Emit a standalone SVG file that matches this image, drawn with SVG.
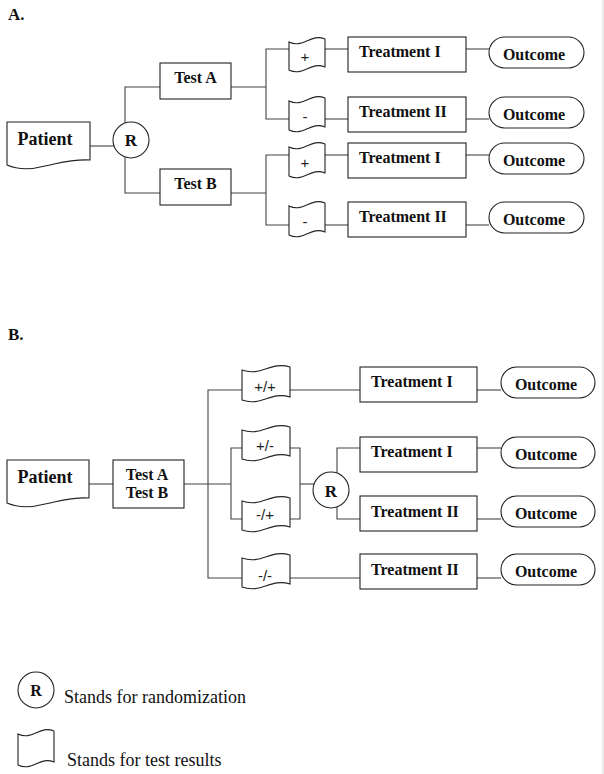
<svg xmlns="http://www.w3.org/2000/svg" width="604" height="774" viewBox="0 0 604 774">
<style>
.s{fill:#fff;stroke:#222;stroke-width:1.1}
.c line,.c polyline{fill:none;stroke:#444;stroke-width:1.1}
.b{font-family:"Liberation Serif","Times New Roman",serif;font-weight:bold;font-size:16px;fill:#111}
.bc{text-anchor:middle}
.r{font-size:17px}
.p{font-family:"Liberation Serif","Times New Roman",serif;font-weight:bold;font-size:18px;fill:#111;text-anchor:middle}
.t{font-family:"Liberation Sans",Arial,sans-serif;font-size:15px;fill:#222;text-anchor:middle}
.l{font-family:"Liberation Serif","Times New Roman",serif;font-size:18px;fill:#111}
.h{font-family:"Liberation Serif","Times New Roman",serif;font-weight:bold;font-size:17px;fill:#111}
</style>
<rect width="604" height="774" fill="#fff"/>
<line x1="603" y1="0" x2="603" y2="774" stroke="#d4d4d4" stroke-width="1"/>

<text class="h" x="8" y="20">A.</text>
<text class="h" x="8" y="340">B.</text>

<g class="c" id="connectors">
  <!-- A -->
  <line x1="90" y1="146" x2="114" y2="146"/>
  <polyline points="125,123 125,87 160,87"/>
  <polyline points="125,157 125,193 160,193"/>
  <line x1="231" y1="87" x2="266" y2="87"/>
  <polyline points="289,49 266,49 266,119 289,119"/>
  <line x1="231" y1="193" x2="266" y2="193"/>
  <polyline points="289,155 266,155 266,225 289,225"/>
  <line x1="325" y1="49" x2="348" y2="49"/>
  <line x1="325" y1="119" x2="348" y2="119"/>
  <line x1="325" y1="155" x2="348" y2="155"/>
  <line x1="325" y1="225" x2="348" y2="225"/>
  <line x1="466" y1="49" x2="489" y2="49"/>
  <line x1="466" y1="119" x2="489" y2="119"/>
  <line x1="466" y1="155" x2="489" y2="155"/>
  <line x1="466" y1="225" x2="489" y2="225"/>
  <!-- B -->
  <line x1="89" y1="484" x2="113" y2="484"/>
  <line x1="184" y1="484" x2="231" y2="484"/>
  <polyline points="242,390 208,390 208,578 242,578"/>
  <polyline points="242,448 231,448 231,519 242,519"/>
  <line x1="290" y1="390" x2="360" y2="390"/>
  <polyline points="290,448 300,448 300,519 290,519"/>
  <line x1="300" y1="484" x2="314" y2="484"/>
  <polyline points="337,473 337,448 360,448"/>
  <polyline points="337,507 337,519 360,519"/>
  <line x1="290" y1="578" x2="360" y2="578"/>
  <line x1="477" y1="390" x2="501" y2="390"/>
  <line x1="477" y1="448" x2="501" y2="448"/>
  <line x1="477" y1="519" x2="501" y2="519"/>
  <line x1="477" y1="578" x2="501" y2="578"/>
</g>

<!-- Section A nodes -->
<g id="a-patient"><path class="s" d="M7,122 H90 V160 C72,159 60,163 45,166 C30,170 16,169 7,165 Z"/><text class="p" x="45" y="145">Patient</text></g>
<g id="a-r"><circle class="s" cx="131" cy="140" r="18"/><text class="b bc r" x="131" y="146">R</text></g>
<g id="a-testa"><rect class="s" x="160" y="63" width="71" height="36"/><text class="b bc" x="195.5" y="83">Test A</text></g>
<g id="a-testb"><rect class="s" x="160" y="169" width="71" height="36"/><text class="b bc" x="195.5" y="189">Test B</text></g>

<g id="a-res1"><path class="s" d="M289,42 C303.4,49 310.6,33 325,39 L325,67 C310.6,61 303.4,77 289,70 Z"/><text class="t" x="305" y="62">+</text></g>
<g id="a-res2"><path class="s" d="M289,101 C303.4,108 310.6,92 325,98 L325,127 C310.6,121 303.4,137 289,130 Z"/><text class="t" x="305" y="122">-</text></g>
<g id="a-res3"><path class="s" d="M289,147 C303.4,154 310.6,138 325,144 L325,173 C310.6,167 303.4,183 289,176 Z"/><text class="t" x="305" y="168">+</text></g>
<g id="a-res4"><path class="s" d="M289,206 C303.4,213 310.6,197 325,203 L325,232 C310.6,226 303.4,242 289,235 Z"/><text class="t" x="305" y="227">-</text></g>

<g id="a-tr1"><rect class="s" x="348" y="37" width="118" height="35"/><text class="b" x="359" y="57">Treatment I</text></g>
<g id="a-tr2"><rect class="s" x="348" y="97" width="118" height="35"/><text class="b" x="359" y="117">Treatment II</text></g>
<g id="a-tr3"><rect class="s" x="348" y="143" width="118" height="35"/><text class="b" x="359" y="163">Treatment I</text></g>
<g id="a-tr4"><rect class="s" x="348" y="202" width="118" height="35"/><text class="b" x="359" y="222">Treatment II</text></g>

<g id="a-out1"><rect class="s" x="489" y="37" width="95" height="31" rx="15.5"/><text class="b bc" x="534" y="60">Outcome</text></g>
<g id="a-out2"><rect class="s" x="489" y="97" width="95" height="31" rx="15.5"/><text class="b bc" x="534" y="120">Outcome</text></g>
<g id="a-out3"><rect class="s" x="489" y="143" width="95" height="31" rx="15.5"/><text class="b bc" x="534" y="166">Outcome</text></g>
<g id="a-out4"><rect class="s" x="489" y="202" width="95" height="31" rx="15.5"/><text class="b bc" x="534" y="225">Outcome</text></g>

<!-- Section B nodes -->
<g id="b-patient"><path class="s" d="M7,460 H89 V498 C72,497 60,501 45,504 C30,508 16,507 7,503 Z"/><text class="p" x="45" y="483">Patient</text></g>
<g id="b-tests"><rect class="s" x="113" y="460" width="71" height="48"/><text class="b bc" x="147" y="480">Test A</text><text class="b bc" x="147" y="498">Test B</text></g>

<g id="b-res1"><path class="s" d="M242,370 C261.2,377 270.8,361 290,367 L290,397 C270.8,391 261.2,407 242,400 Z"/><text class="t" x="265" y="392">+/+</text></g>
<g id="b-res2"><path class="s" d="M242,430 C261.2,437 270.8,421 290,427 L290,456 C270.8,450 261.2,466 242,459 Z"/><text class="t" x="265" y="451">+/-</text></g>
<g id="b-res3"><path class="s" d="M242,501 C261.2,508 270.8,492 290,498 L290,527 C270.8,521 261.2,537 242,530 Z"/><text class="t" x="265" y="520">-/+</text></g>
<g id="b-res4"><path class="s" d="M242,558 C261.2,565 270.8,549 290,555 L290,584 C270.8,578 261.2,594 242,587 Z"/><text class="t" x="265" y="581">-/-</text></g>

<g id="b-r"><circle class="s" cx="331" cy="490" r="18"/><text class="b bc r" x="331" y="497">R</text></g>

<g id="b-tr1"><rect class="s" x="360" y="367" width="117" height="35"/><text class="b" x="371" y="387">Treatment I</text></g>
<g id="b-tr2"><rect class="s" x="360" y="437" width="117" height="35"/><text class="b" x="371" y="457">Treatment I</text></g>
<g id="b-tr3"><rect class="s" x="360" y="496" width="117" height="35"/><text class="b" x="371" y="517">Treatment II</text></g>
<g id="b-tr4"><rect class="s" x="360" y="554" width="117" height="35"/><text class="b" x="371" y="575">Treatment II</text></g>

<g id="b-out1"><rect class="s" x="501" y="367" width="94" height="31" rx="15.5"/><text class="b bc" x="546" y="390">Outcome</text></g>
<g id="b-out2"><rect class="s" x="501" y="437" width="94" height="31" rx="15.5"/><text class="b bc" x="546" y="460">Outcome</text></g>
<g id="b-out3"><rect class="s" x="501" y="496" width="94" height="31" rx="15.5"/><text class="b bc" x="546" y="519">Outcome</text></g>
<g id="b-out4"><rect class="s" x="501" y="554" width="94" height="31" rx="15.5"/><text class="b bc" x="546" y="577">Outcome</text></g>

<!-- Legend -->
<g id="legend-r"><circle class="s" cx="36" cy="690" r="18"/><text class="b bc" x="36" y="696">R</text><text class="l" x="64" y="703">Stands for randomization</text></g>
<g id="legend-tape"><path class="s" d="M18,734 C32.4,741 39.6,725 54,731 L54,762 C39.6,756 32.4,772 18,765 Z"/><text class="l" x="67" y="766">Stands for test results</text></g>
</svg>
